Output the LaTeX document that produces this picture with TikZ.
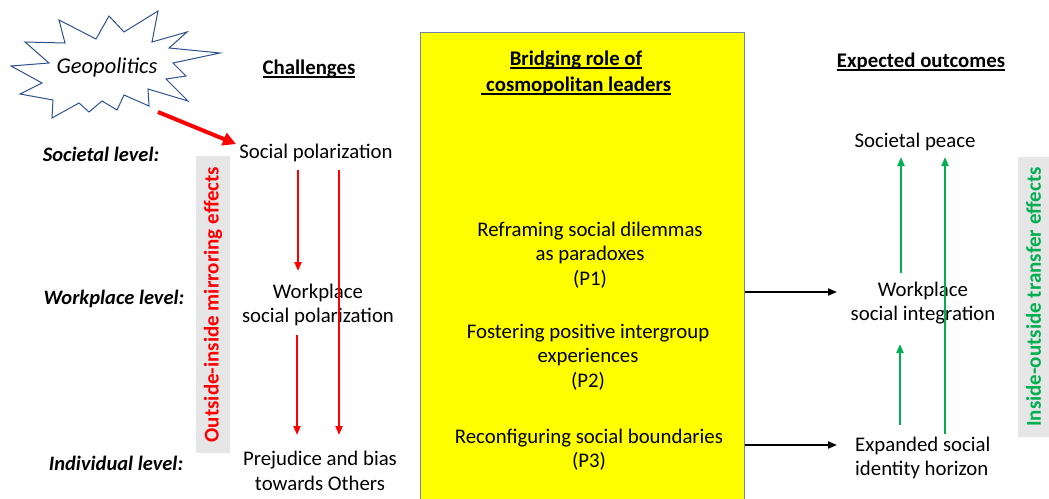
\documentclass[tikz,border=0pt]{standalone}
\usepackage{fontspec}
\setmainfont{Carlito}
\usetikzlibrary{arrows.meta}
\newcommand\myul[1]{\setbox0\hbox{#1}\rlap{\vrule width\wd0 height -1.8pt depth 3.1pt}\box0}
\definecolor{redc}{HTML}{FF0000}
\definecolor{greenc}{HTML}{00B050}
\definecolor{grayc}{HTML}{E7E6E6}
\definecolor{starblue}{HTML}{2F528F}
\definecolor{boxborder}{HTML}{6E86A8}
\definecolor{ybox}{HTML}{FFFF00}
\begin{document}
\begin{tikzpicture}[x=1pt,y=-1pt,
  txt/.style={font=\fontsize{20.8}{24.4}\selectfont, align=center, inner sep=0pt},
  head/.style={font=\fontsize{20.8}{26}\selectfont\bfseries, align=center, inner sep=0pt},
  lvl/.style={font=\fontsize{20.5}{23}\selectfont\bfseries\itshape, inner sep=0pt},
  sidebox/.style={fill=grayc, rotate=90, inner sep=0pt, font=\fontsize{21}{24}\selectfont\bfseries},
  redarrow/.style={draw=redc, line width=2pt, -{Triangle[length=9pt,width=7pt]}},
  greenarrow/.style={draw=greenc, line width=2pt, -{Triangle[length=9pt,width=7pt]}},
  blackarrow/.style={draw=black, line width=1.8pt, -{Triangle[length=9pt,width=7pt]}},
  bigredarrow/.style={draw=redc, line width=4pt, -{Triangle[length=13pt,width=13pt]}}
]
\useasboundingbox (0,0) rectangle (1049,498);
\fill[white] (0,0) rectangle (1049,498);

% yellow box
\node[draw=boxborder, line width=1pt, fill=ybox, minimum width=324pt, minimum height=480pt,
      inner sep=0pt, anchor=north west] (ybox) at (420,32) {};

% star
\draw[starblue, line width=1pt, fill=white]
  (59,20) -- (96,39) -- (109,16) -- (124,32) -- (158,11) -- (152,42) -- (187,32) --
  (169,48) -- (220,53) -- (173,63) -- (186,76) -- (166,79) -- (188,101) -- (148,89) --
  (149,106) -- (124,95) -- (117,110) -- (102,101) -- (89,112) -- (79,103) -- (52,118) --
  (53,100) -- (20,94) -- (42,83) -- (11,66) -- (49,63) -- (25,42) -- (65,43) -- cycle;
\node[font=\fontsize{22.5}{26}\selectfont\itshape, inner sep=0pt] (geo) at (107,67) {Geopolitics};

% headings
\node[head] (chal) at (309,69) {\myul{Challenges}};
\node[head] (bridge) at (576,73) {\myul{Bridging role of}\\\myul{\hspace{0.25em}cosmopolitan leaders}};
\node[head] (expect) at (921,62) {\myul{Expected outcomes}};

% level labels
\node[lvl] (lsoc) at (101,154) {Societal level:};
\node[lvl] (lwork) at (114,299) {Workplace level:};
\node[lvl] (lind) at (116,463) {Individual level:};

% side boxes
\node[sidebox, text=redc, minimum width=297pt, minimum height=34pt] (mirror) at (213,304.5)
  {Outside-inside mirroring effects};
\node[sidebox, text=greenc, minimum width=280pt, minimum height=31pt] (transfer) at (1033.5,297)
  {Inside-outside transfer effects};

% challenges column
\node[txt] (c1) at (316,153) {Social polarization};
\node[txt] (c2) at (318,305) {Workplace\\social polarization};
\node[txt] (c3) at (320,471) {Prejudice and bias\\towards Others};

% middle column
\node[txt] (p1) at (590,255) {Reframing social dilemmas\\as paradoxes\\(P1)};
\node[txt] (p2) at (588,357) {Fostering positive intergroup\\experiences\\(P2)};
\node[txt] (p3) at (589,449.5) {Reconfiguring social boundaries\\(P3)};

% outcomes column
\node[txt] (o1) at (915,142) {Societal peace};
\node[txt] (o2) at (923,303) {Workplace\\social integration};
\node[txt, align=left, anchor=west] (o3) at (855,458) {Expanded social\\identity horizon};

% coordinates for connector ends
\coordinate (r1s) at (298,170); \coordinate (r1e) at (298,271);
\coordinate (r2s) at (297,335); \coordinate (r2e) at (297,435);
\coordinate (r3s) at (339,170); \coordinate (r3e) at (339,435);
\coordinate (g1s) at (901,273); \coordinate (g1e) at (901,157);
\coordinate (g2s) at (900,425); \coordinate (g2e) at (900,344);
\coordinate (g3s) at (945,434); \coordinate (g3e) at (945,157);
\coordinate (b1s) at (ybox.east |- 0,292); \coordinate (b1e) at (837,292);
\coordinate (b2s) at (ybox.east |- 0,445); \coordinate (b2e) at (837,445);
\coordinate (geoTail) at (158,112); \coordinate (geoHead) at (236,144);

% connectors
\draw[bigredarrow] (geoTail) -- (geoHead);
\draw[redarrow] (r1s) -- (r1e);
\draw[redarrow] (r2s) -- (r2e);
\draw[redarrow] (r3s) -- (r3e);
\draw[greenarrow] (g1s) -- (g1e);
\draw[greenarrow] (g2s) -- (g2e);
\draw[greenarrow] (g3s) -- (g3e);
\draw[blackarrow] (b1s) -- (b1e);
\draw[blackarrow] (b2s) -- (b2e);
\end{tikzpicture}
\end{document}
